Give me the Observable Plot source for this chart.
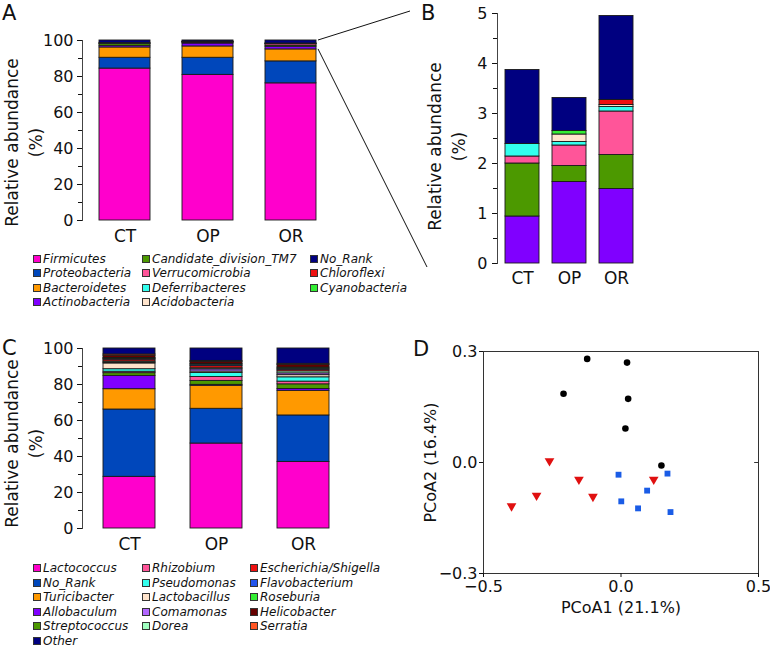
<!DOCTYPE html>
<html><head><meta charset="utf-8">
<script src="https://cdn.jsdelivr.net/npm/d3@7"></script>
<script src="https://cdn.jsdelivr.net/npm/@observablehq/plot@0.6"></script>
<style>
html,body{margin:0;padding:0;background:#fff;}
#root{position:relative;width:770px;height:646px;overflow:hidden;font-family:"DejaVu Sans",sans-serif;color:#111;}
.panel{position:absolute;}
.letter{position:absolute;font-size:21px;line-height:1;color:#111;}
.item{position:absolute;height:16px;display:flex;align-items:center;font-size:12px;font-style:italic;white-space:nowrap;color:#111;}
.sw{width:8px;height:8px;box-sizing:border-box;border:1px solid #333;margin-right:2px;flex:none;}
</style>
</head><body><div id="root"></div>
<script>
// ---------- data ----------
const groups = ["CT", "OP", "OR"];

const phyla = ["Firmicutes","Proteobacteria","Bacteroidetes","Actinobacteria","Candidate_division_TM7","Verrucomicrobia","Deferribacteres","Acidobacteria","Chloroflexi","Cyanobacteria","No_Rank"];
const phylumCT = [84.4, 6.0, 5.73, 0.94, 1.06, 0.14, 0.25, 0.00, 0.00, 0.00, 1.48];
const phylumOP = [80.9, 9.5, 6.30, 1.63, 0.32, 0.41, 0.07, 0.15, 0.00, 0.07, 0.66];
const phylumOR = [76.2, 12.2, 6.65, 1.49, 0.68, 0.87, 0.09, 0.04, 0.10, 0.00, 1.68];
const phylumColors = ["#FF00CC","#0047BB","#FF9900","#8000FF","#4C9900","#FF5599","#33FFEE","#FFE4CC","#EE1111","#33EE33","#000080"];
const phylaLegend = [["Firmicutes","Proteobacteria","Bacteroidetes","Actinobacteria"],["Candidate_division_TM7","Verrucomicrobia","Deferribacteres","Acidobacteria"],["No_Rank","Chloroflexi","Cyanobacteria"]];
const minorPhyla = phyla.slice(3);

const genera = ["Lactococcus","No_Rank","Turicibacter","Allobaculum","Streptococcus","Rhizobium","Pseudomonas","Lactobacillus","Comamonas","Dorea","Escherichia/Shigella","Flavobacterium","Roseburia","Helicobacter","Serratia","Other"];
const genusCT = [28.7, 37.4, 11.3, 7.4, 1.5, 0.8, 1.4, 3.2, 0.5, 0.6, 1.0, 0.4, 0.5, 1.3, 0.7, 3.3];
const genusOP = [47.2, 19.3, 12.8, 0.5, 2.2, 2.2, 2.2, 0.8, 1.2, 0.6, 1.2, 0.8, 0.5, 1.0, 0.6, 6.9];
const genusOR = [37.0, 25.8, 13.7, 1.0, 2.6, 1.5, 2.4, 1.2, 1.0, 1.1, 0.9, 0.6, 0.6, 1.4, 0.7, 8.5];
const genusColors = ["#FF00CC","#0047BB","#FF9900","#8000FF","#4C9900","#FF5599","#33FFEE","#FFE4CC","#B266FF","#A0FFC0","#EE1111","#2255EE","#33EE33","#660000","#FF5522","#000080"];
const generaLegend = [["Lactococcus","No_Rank","Turicibacter","Allobaculum","Streptococcus","Other"],["Rhizobium","Pseudomonas","Lactobacillus","Comamonas","Dorea"],["Escherichia/Shigella","Flavobacterium","Roseburia","Helicobacter","Serratia"]];

const pcoaCTx = [-0.123, 0.022, -0.209, 0.026, 0.016, 0.147];
const pcoaCTy = [0.280, 0.270, 0.186, 0.172, 0.092, -0.008];
const pcoaOPx = [-0.260, -0.153, -0.307, -0.398, -0.102, 0.119];
const pcoaOPy = [0.004, -0.046, -0.089, -0.118, -0.092, -0.046];
const pcoaORx = [-0.009, 0.001, 0.062, 0.095, 0.169, 0.180];
const pcoaORy = [-0.033, -0.105, -0.124, -0.076, -0.030, -0.134];

const barTicksPct = [0, 20, 40, 60, 80, 100];
const barMinorPct = [10, 30, 50, 70, 90];
const barTicksB = [0, 1, 2, 3, 4, 5];
const barMinorB = [0.5, 1.5, 2.5, 3.5, 4.5];
const pcoaTicksX = [-0.5, 0, 0.5];
const pcoaTicksY = [-0.3, 0, 0.3];

// ---------- helpers ----------
const root = document.getElementById("root");
const baseStyle = {fontFamily: "DejaVu Sans, sans-serif", fontSize: "16px", color: "#111", background: "transparent", overflow: "visible"};

function place(node, left, top, w) {
  const d = document.createElement("div");
  d.className = "panel";
  d.style.left = left + "px"; d.style.top = top + "px"; d.style.width = w + "px";
  d.appendChild(node);
  root.appendChild(d);
}
function letter(t, left, top) {
  const d = document.createElement("div");
  d.className = "letter"; d.textContent = t;
  d.style.left = left + "px"; d.style.top = top + "px";
  root.appendChild(d);
}
function legend(cols, names, colors, colX, rowY0, rowStep) {
  const cmap = new Map(names.map((n, i) => [n, colors[i]]));
  cols.forEach((col, ci) => col.forEach((n, ri) => {
    const it = document.createElement("div");
    it.className = "item";
    it.style.left = colX[ci] + "px";
    it.style.top = (rowY0 + ri * rowStep - 8) + "px";
    const sw = document.createElement("span");
    sw.className = "sw"; sw.style.background = cmap.get(n);
    it.appendChild(sw);
    it.appendChild(document.createTextNode(n));
    root.appendChild(it);
  }));
}
function tidy(names, rows) {
  return groups.flatMap((g, i) => names.map((n, j) => ({group: g, name: n, value: rows[i][j]})));
}
function stacked(o) {
  return Plot.plot({
    width: o.width, height: o.height,
    marginLeft: o.ml, marginRight: 0, marginTop: o.mt, marginBottom: o.mb,
    style: baseStyle,
    x: {domain: groups, paddingInner: o.pi, paddingOuter: o.po, axis: null},
    y: {domain: o.yDomain, axis: null},
    color: {domain: o.names, range: o.colors},
    marks: [
      Plot.barY(o.data, {x: "group", y: "value", z: "name", fill: "name", stroke: "#1a1a1a", strokeWidth: 0.9}),
      Plot.frame({anchor: "left", stroke: "#444"}),
      Plot.axisY({ticks: o.ticks, tickSize: 5, tickPadding: o.tp, tickFormat: d => String(d), fontSize: 16, label: null}),
      Plot.axisY({ticks: o.minor, tickSize: 4, tickFormat: () => "", label: null}),
      Plot.axisX({tickSize: 0, tickPadding: o.xp, fontSize: 17, label: null}),
      Plot.text(["Relative abundance\n(%)"], {text: d => d, frameAnchor: "left", textAnchor: "middle", lineAnchor: "middle", rotate: -90, dx: o.tdx, dy: o.tdy, fontSize: 17, lineHeight: 1.4, fill: "#111"})
    ]
  });
}

// ---------- Panel A ----------
const plotA = stacked({data: tidy(phyla, [phylumCT, phylumOP, phylumOR]), names: phyla, colors: phylumColors,
  width: 332, height: 230, ml: 82, mt: 15, mb: 35, pi: 0.39, po: 0.19, yDomain: [0, 100],
  ticks: barTicksPct, minor: barMinorPct, tp: 4, xp: 9, tdx: -60, tdy: 12});
place(plotA, 0, 25, 332);
letter("A", 2, 3);
legend(phylaLegend, phyla, phylumColors, [33, 142, 310], 258.5, 14.6);

// ---------- Panel B ----------
const plotB = stacked({data: tidy(minorPhyla, [phylumCT.slice(3), phylumOP.slice(3), phylumOR.slice(3)]), names: minorPhyla, colors: phylumColors.slice(3),
  width: 242, height: 293, ml: 97, mt: 13, mb: 30, pi: 0.27, po: 0.146, yDomain: [0, 5],
  ticks: barTicksB, minor: barMinorB, tp: 5, xp: 8, tdx: -52, tdy: 8});
place(plotB, 400, 0, 242);
letter("B", 421, 3);

// ---------- Panel C ----------
const plotC = stacked({data: tidy(genera, [genusCT, genusOP, genusOR]), names: genera, colors: genusColors,
  width: 350, height: 233, ml: 82, mt: 18, mb: 35, pi: 0.405, po: 0.226, yDomain: [0, 100],
  ticks: barTicksPct, minor: barMinorPct, tp: 4, xp: 9, tdx: -60, tdy: 5});
place(plotC, 0, 330, 350);
letter("C", 2, 338);
legend(generaLegend, genera, genusColors, [33, 142, 250], 568, 14.6);

// ---------- Panel D ----------
const triDown = {draw(ctx, size) {
  const s3 = Math.sqrt(3);
  const y = -Math.sqrt(size / (s3 * 3));
  ctx.moveTo(0, -y * 2); ctx.lineTo(-s3 * y, y); ctx.lineTo(s3 * y, y); ctx.closePath();
}};
const pts = (xs, ys) => xs.map((x, i) => ({x, y: ys[i]}));
const fmt = d3.format(".1f");
const plotD = Plot.plot({
  width: 370, height: 316, marginLeft: 83, marginRight: 12, marginTop: 21, marginBottom: 73,
  style: baseStyle,
  x: {domain: [-0.5, 0.5], axis: null},
  y: {domain: [-0.3, 0.3], axis: null},
  marks: [
    Plot.frame({stroke: "#333"}),
    Plot.axisX({ticks: pcoaTicksX, tickFormat: fmt, tickSize: 4, tickPadding: 3, fontSize: 16, label: null}),
    Plot.axisY({ticks: pcoaTicksY, tickFormat: fmt, tickSize: 4, tickPadding: 2, fontSize: 16, label: null}),
    Plot.ruleY([0], {x1: 0.486, x2: 0.5, stroke: "#333"}),
    Plot.dot(pts(pcoaCTx, pcoaCTy), {x: "x", y: "y", r: 3.3, fill: "#000", symbol: "circle"}),
    Plot.dot(pts(pcoaOPx, pcoaOPy), {x: "x", y: "y", r: 3.6, fill: "#E01010", symbol: triDown}),
    Plot.dot(pts(pcoaORx, pcoaORy), {x: "x", y: "y", r: 3.3, fill: "#1A5CE6", symbol: "square"}),
    Plot.text(["PCoA2 (16.4%)"], {text: d => d, frameAnchor: "left", textAnchor: "middle", lineAnchor: "middle", rotate: -90, dx: -53, dy: 0, fontSize: 16, fill: "#111"}),
    Plot.text(["PCoA1 (21.1%)"], {text: d => d, frameAnchor: "bottom", textAnchor: "middle", lineAnchor: "middle", dy: 34, fontSize: 16, fill: "#111"})
  ]
});
place(plotD, 400, 330, 370);
letter("D", 413, 339);

// ---------- connector lines (from A's OR "other" segment to panel B) ----------
const xA = plotA.scale("x"), yA = plotA.scale("y"), yB = plotB.scale("y");
const orEnd = xA.apply("OR") + xA.bandwidth + 2;
const orBase = phylumOR.slice(0, 3).reduce((a, b) => a + b, 0);
const ns = "http://www.w3.org/2000/svg";
const ov = document.createElementNS(ns, "svg");
ov.setAttribute("width", 770); ov.setAttribute("height", 646);
ov.style.position = "absolute"; ov.style.left = "0"; ov.style.top = "0"; ov.style.pointerEvents = "none";
[[orEnd, 25 + yA.apply(100), 410, yB.apply(5) - 2], [orEnd, 25 + yA.apply(orBase), 427, yB.apply(0) + 4]].forEach(([x1, y1, x2, y2]) => {
  const l = document.createElementNS(ns, "line");
  l.setAttribute("x1", x1); l.setAttribute("y1", y1); l.setAttribute("x2", x2); l.setAttribute("y2", y2);
  l.setAttribute("stroke", "#111"); l.setAttribute("stroke-width", "1");
  ov.appendChild(l);
});
root.appendChild(ov);
</script>
</body></html>
